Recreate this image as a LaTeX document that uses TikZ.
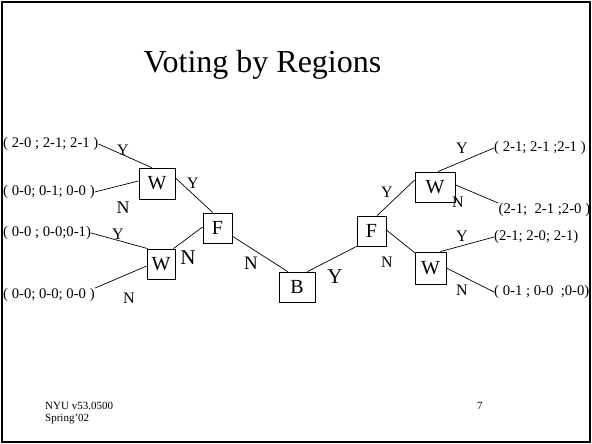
\documentclass[tikz,border=0pt]{standalone}
\usepackage{fontspec}
\setmainfont{Liberation Serif}
\usetikzlibrary{positioning}

\begin{document}
\begin{tikzpicture}[x=1pt,y=-1pt]
		\tikzstyle{Box} = [rectangle, draw=black, line width=0.8pt, inner sep=0pt, text centered, font=\fontsize{20}{24}\selectfont]
		\tikzstyle{Leaf} = [inner sep=0pt, anchor=west, font=\fontsize{14.7}{18}\selectfont]
		\tikzstyle{Vote} = [inner sep=0pt, font=\fontsize{16}{19}\selectfont]
		\tikzstyle{BigVote} = [inner sep=0pt, font=\fontsize{21}{25}\selectfont]
		\tikzstyle{branch} = [line width=0.7pt]
		
		\useasboundingbox (0,0) rectangle (592,444);
		\draw [line width=2pt] (2,2) rectangle (590,442);
		\node (title) [anchor=base, font=\fontsize{32}{38}\selectfont] at (262.5,72.7) {Voting by Regions};
		
		% decision boxes
		\node (wL1) [Box, minimum width=36pt, minimum height=31pt] at (157,183.5) {W};
		\node (wL2) [Box, minimum width=28pt, minimum height=30pt] at (161,264) {W};
		\node (fL) [Box, minimum width=29pt, minimum height=30pt] at (217.5,228) {F};
		\node (bNode) [Box, minimum width=36pt, minimum height=30pt] at (297,287) {B};
		\node (fR) [Box, minimum width=29pt, minimum height=30pt] at (371.5,231) {F};
		\node (wR1) [Box, minimum width=40pt, minimum height=30pt] at (435,187) {W};
		\node (wR2) [Box, minimum width=31pt, minimum height=32pt] at (430.5,268) {W};
		
		% outcomes
		\node (leafL1) [Leaf] at (3,144) {( 2-0 ; 2-1; 2-1 )};
		\node (leafL2) [Leaf] at (3,192) {( 0-0; 0-1; 0-0 )};
		\node (leafL3) [Leaf] at (3,233) {( 0-0 ; 0-0;0-1)};
		\node (leafL4) [Leaf] at (3,295) {( 0-0; 0-0; 0-0 )};
		\node (leafR1) [Leaf] at (494,148) {( 2-1; 2-1 ;2-1 )};
		\node (leafR2) [Leaf] at (498.5,210) {(2-1;\ \ 2-1 ;2-0 )};
		\node (leafR3) [Leaf] at (494,237) {(2-1; 2-0; 2-1)};
		\node (leafR4) [Leaf] at (494,292) {( 0-1 ; 0-0\ \ ;0-0)};
		
		% Y / N marks
		\node (yL1) [Vote] at (123,150) {Y};
		\node (nL1) [Vote, font=\fontsize{18}{21}\selectfont] at (123,208) {N};
		\node (yL2) [Vote] at (193,183) {Y};
		\node (yL3) [Vote] at (118,234) {Y};
		\node (nL2) [BigVote] at (188,258) {N};
		\node (nL3) [Vote, font=\fontsize{19}{22}\selectfont] at (251,263) {N};
		\node (nL4) [Vote] at (129,298) {N};
		\node (yR1) [Vote] at (462,148) {Y};
		\node (yR2) [Vote] at (387,192) {Y};
		\node (nR1) [Vote] at (458,202) {N};
		\node (yR3) [Vote] at (462,236) {Y};
		\node (nR2) [Vote] at (387,262) {N};
		\node (yR4) [BigVote] at (335,277) {Y};
		\node (nR3) [Vote] at (462,290) {N};
		
		% branches
		\draw [branch] (leafL1.east) -- (wL1.108);
		\draw [branch] (leafL2.east) -- (wL1.172);
		\draw [branch] (wL1.17) -- (fL.107);
		\draw [branch] (leafL3.east) -- (wL2.131);
		\draw [branch] (leafL4.north east) -- (wL2.188);
		\draw [branch] (wL2.51) -- (fL.176);
		\draw [branch] (fL.331) -- (bNode.121);
		\draw [branch] (bNode.56) -- (fR.south west);
		\draw [branch] (fR.70) -- (wR1.161);
		\draw [branch] (fR.4) -- (wR2.136);
		\draw [branch] (wR1.79) -- (leafR1.west);
		\draw [branch] (wR1.6) -- (leafR2.north west);
		\draw [branch] (wR2.59) -- (leafR3.west);
		\draw [branch] (wR2.east) -- (leafR4.west);
		
		% footer
		\node (footA) [anchor=base west, inner sep=0pt, font=\fontsize{11}{13}\selectfont] at (45,409) {NYU v53.0500};
		\node (footB) [anchor=base west, inner sep=0pt, font=\fontsize{11}{13}\selectfont] at (45,421) {Spring'02};
		\node (pageNo) [anchor=base west, inner sep=0pt, font=\fontsize{11}{13}\selectfont] at (477,409) {7};
\end{tikzpicture}
\end{document}
